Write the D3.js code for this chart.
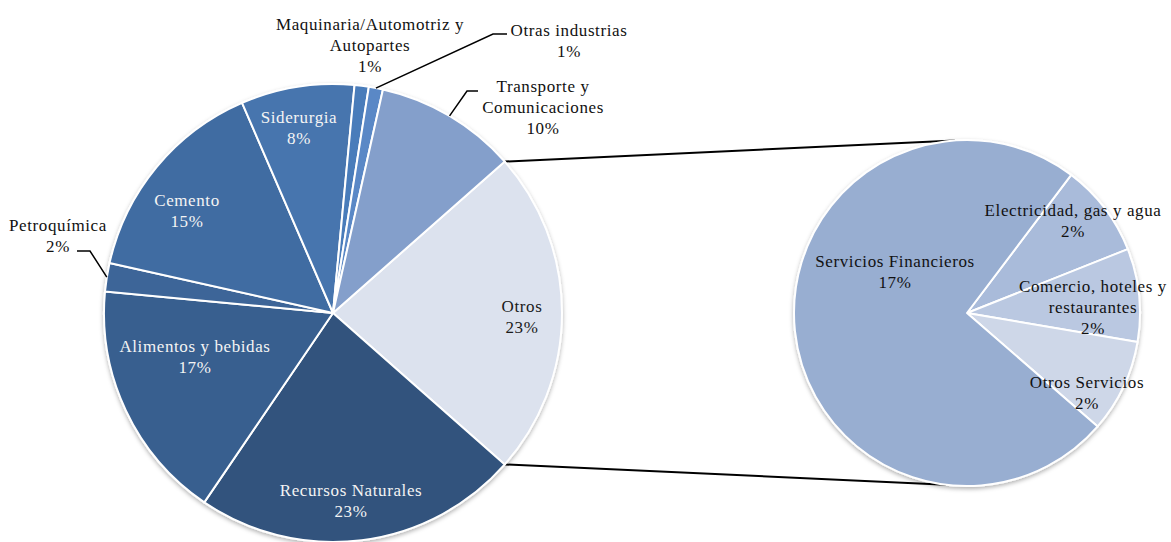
<!DOCTYPE html>
<html>
<head>
<meta charset="utf-8">
<script src="https://cdn.jsdelivr.net/npm/d3@7"></script>
<style>
  html, body { margin: 0; padding: 0; background: #ffffff; }
  svg { display: block; }
</style>
</head>
<body>
<svg id="chart" width="1171" height="542"></svg>
<script>
// Main pie: share of each sector (%)
const mainCategories = [
  "Otros", "Recursos Naturales", "Alimentos y bebidas", "Petroquímica",
  "Cemento", "Siderurgia", "Maquinaria/Automotriz y Autopartes",
  "Otras industrias", "Transporte y Comunicaciones"
];
const mainValues = [23, 23, 17, 2, 15, 8, 1, 1, 10];
const mainColors = [
  "#dce2ee", "#30537d", "#385f8f", "#3d6598", "#416ca2",
  "#4674ae", "#4a7bba", "#5a88c6", "#849fcb"
];

// Secondary pie: breakdown of "Otros" (%)
const subCategories = [
  "Electricidad, gas y agua", "Comercio, hoteles y restaurantes",
  "Otros Servicios", "Servicios Financieros"
];
const subValues = [2, 2, 2, 17];
const subColors = ["#a9bbda", "#bac8e1", "#ced7e8", "#98aed1"];

// Label lines (text broken as displayed) and placement of each label block
const mainLabelLines = [
  ["Otros", "23%"],
  ["Recursos Naturales", "23%"],
  ["Alimentos y bebidas", "17%"],
  ["Petroquímica", "2%"],
  ["Cemento", "15%"],
  ["Siderurgia", "8%"],
  ["Maquinaria/Automotriz y", "Autopartes", "1%"],
  ["Otras industrias", "1%"],
  ["Transporte y", "Comunicaciones", "10%"]
];
const mainLabelPos = [
  { x: 522, y: 312, fill: "#1a1a1a" },
  { x: 351, y: 496, fill: "#f4f4f4" },
  { x: 195, y: 352, fill: "#f4f4f4" },
  { x: 58,  y: 231, fill: "#111" },
  { x: 187, y: 206, fill: "#f4f4f4" },
  { x: 299, y: 123, fill: "#f4f4f4" },
  { x: 370, y: 30,  fill: "#111" },
  { x: 569, y: 36,  fill: "#111" },
  { x: 543, y: 92,  fill: "#111" }
];
const subLabelLines = [
  ["Electricidad, gas y agua", "2%"],
  ["Comercio, hoteles y", "restaurantes", "2%"],
  ["Otros Servicios", "2%"],
  ["Servicios Financieros", "17%"]
];
const subLabelPos = [
  { x: 1073, y: 216 },
  { x: 1093, y: 292 },
  { x: 1087, y: 388 },
  { x: 895,  y: 267 }
];
const lineStep = 21;
const fontFamily = "'Liberation Serif', 'Times New Roman', serif";
const fontSize = 17;
const letterSpacing = 0.6;

const svg = d3.select("#chart");

// soft shadow under both pies
const defs = svg.append("defs");
const f = defs.append("filter").attr("id", "shadow")
  .attr("x", "-10%").attr("y", "-10%").attr("width", "120%").attr("height", "120%");
f.append("feDropShadow").attr("dx", 0).attr("dy", 2).attr("stdDeviation", 2.2)
  .attr("flood-color", "#000").attr("flood-opacity", 0.3);

const toRad = d => d * Math.PI / 180;

// geometry
const mainC = { x: 333, y: 313, r: 229 };
const subC = { x: 967, y: 313, r: 173 };

const mainTotal = d3.sum(mainValues);
const mainStart = Math.PI / 2 - (mainValues[0] / mainTotal) * Math.PI;
const mainPie = d3.pie().sort(null).value(d => d)
  .startAngle(mainStart).endAngle(mainStart + 2 * Math.PI);
const mainArcs = mainPie(mainValues);

const subTotal = d3.sum(subValues);
const smallTotal = d3.sum(subValues.slice(0, 3));
const subStart = toRad(84) - (smallTotal / subTotal) * Math.PI;
const subPie = d3.pie().sort(null).value(d => d)
  .startAngle(subStart).endAngle(subStart + 2 * Math.PI);
const subArcs = subPie(subValues);

const mainArc = d3.arc().innerRadius(0).outerRadius(mainC.r);
const subArc = d3.arc().innerRadius(0).outerRadius(subC.r);

const polar = (c, a, r) => [c.x + r * Math.sin(a), c.y - r * Math.cos(a)];

// connector lines from the "Otros" slice to the secondary pie
const otros = mainArcs[0];
const pTop = polar(mainC, otros.startAngle, mainC.r);
const pBot = polar(mainC, otros.endAngle, mainC.r);
const qTop = polar(subC, toRad(-4), subC.r);
const qBot = polar(subC, toRad(187), subC.r);
svg.append("g").selectAll("line")
  .data([[pTop, qTop], [pBot, qBot]])
  .join("line")
  .attr("x1", d => d[0][0]).attr("y1", d => d[0][1])
  .attr("x2", d => d[1][0]).attr("y2", d => d[1][1])
  .attr("stroke", "#000").attr("stroke-width", 2);

// main pie
const gMain = svg.append("g")
  .attr("transform", `translate(${mainC.x},${mainC.y})`);
gMain.append("g").attr("filter", "url(#shadow)")
  .selectAll("path").data(mainArcs).join("path")
  .attr("d", mainArc)
  .attr("fill", (d, i) => mainColors[i])
  .attr("stroke", "#ffffff").attr("stroke-width", 2).attr("stroke-linejoin", "round");

// secondary pie
const gSub = svg.append("g")
  .attr("transform", `translate(${subC.x},${subC.y})`);
gSub.append("g").attr("filter", "url(#shadow)")
  .selectAll("path").data(subArcs).join("path")
  .attr("d", subArc)
  .attr("fill", (d, i) => subColors[i])
  .attr("stroke", "#ffffff").attr("stroke-width", 2).attr("stroke-linejoin", "round");

// leader lines for labels placed outside the pie
const leaders = [
  { i: 3, bend: [90, 251], end: [77, 251] },
  { i: 7, bend: [493, 34], end: [507, 34] },
  { i: 8, bend: [467, 91], end: [478, 91] }
];
svg.append("g").selectAll("polyline").data(leaders).join("polyline")
  .attr("points", d => {
    const a = mainArcs[d.i];
    const p = polar(mainC, (a.startAngle + a.endAngle) / 2, mainC.r);
    return [p, d.bend, d.end].map(q => q.join(",")).join(" ");
  })
  .attr("fill", "none").attr("stroke", "#000").attr("stroke-width", 1.5);

// labels
function drawLabels(lines, pos, defaultFill) {
  const g = svg.append("g")
    .attr("font-family", fontFamily)
    .attr("font-size", fontSize)
    .attr("letter-spacing", letterSpacing);
  lines.forEach((ls, i) => {
    const t = g.append("text")
      .attr("text-anchor", "middle")
      .attr("fill", pos[i].fill || defaultFill);
    ls.forEach((s, j) => {
      t.append("tspan")
        .attr("x", pos[i].x)
        .attr("y", pos[i].y + j * lineStep)
        .text(s);
    });
  });
}
drawLabels(mainLabelLines, mainLabelPos, "#111");
drawLabels(subLabelLines, subLabelPos, "#111");
</script>
</body>
</html>
